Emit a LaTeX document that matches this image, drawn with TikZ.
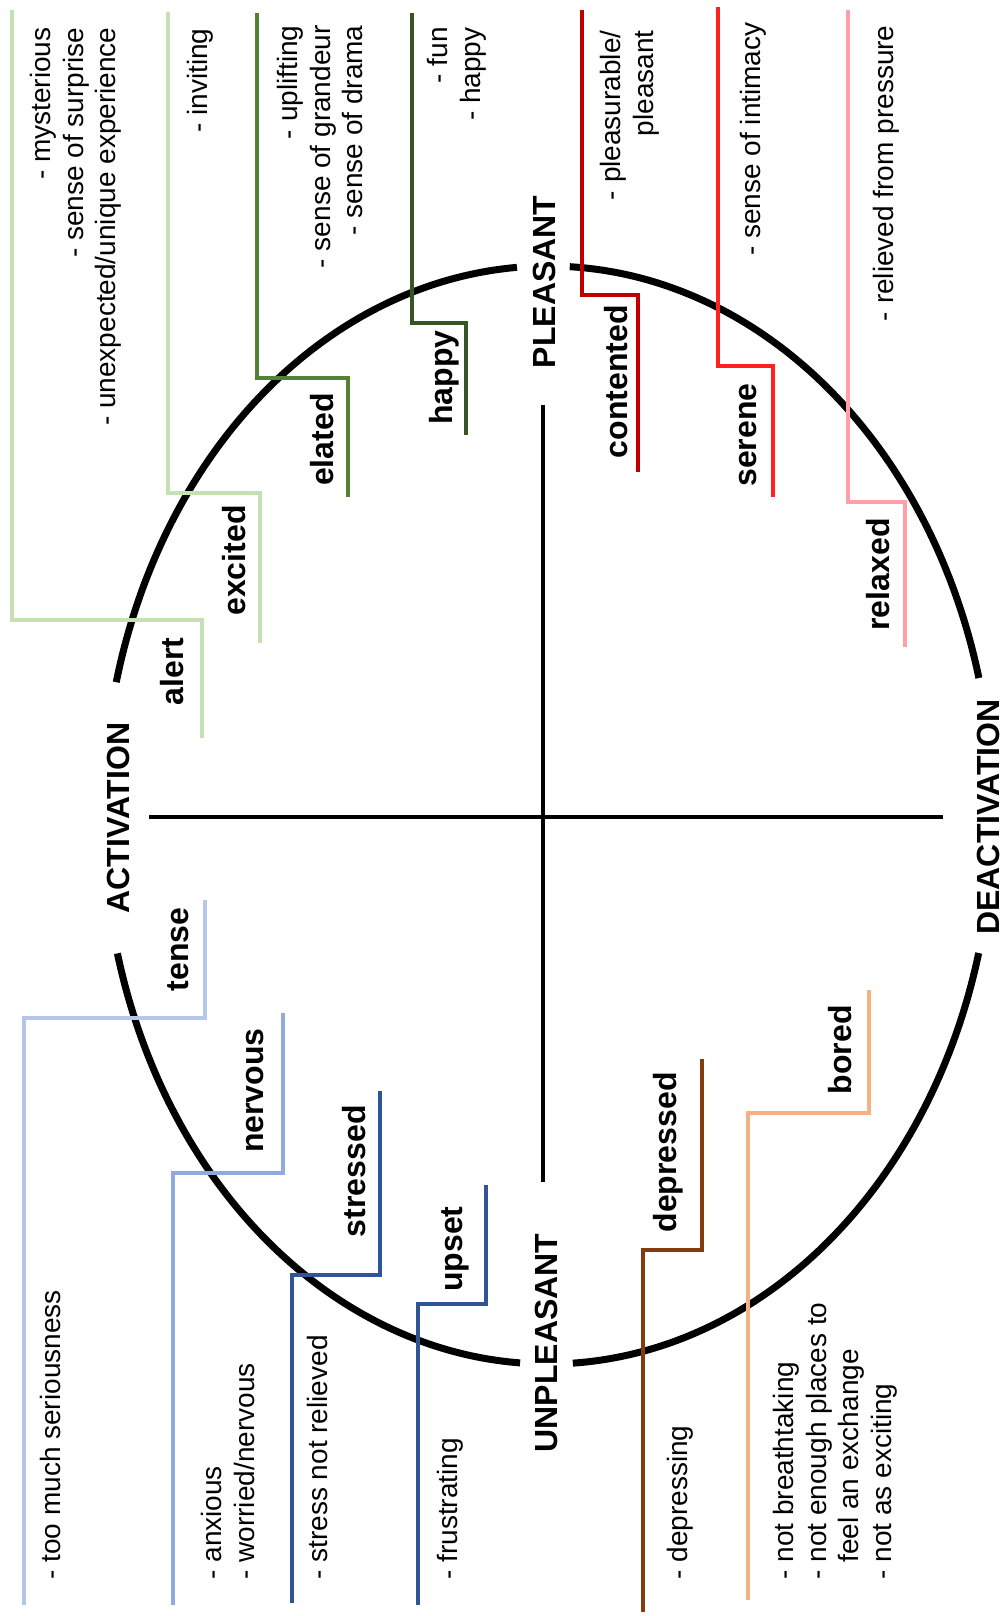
\documentclass[tikz,border=0pt]{standalone}
\usepackage{fontspec}
\setmainfont{Liberation Sans}
\definecolor{lgreen}{HTML}{C5E0B4}
\definecolor{mgreen}{HTML}{548235}
\definecolor{dgreen}{HTML}{375623}
\definecolor{dred}{HTML}{C00000}
\definecolor{bred}{HTML}{FF2020}
\definecolor{pink}{HTML}{FF9FA6}
\definecolor{lblue}{HTML}{B4C7E7}
\definecolor{mblue}{HTML}{8FAADC}
\definecolor{dblue}{HTML}{2F5597}
\definecolor{brown}{HTML}{843C0C}
\definecolor{peach}{HTML}{F4B183}
\begin{document}
\begin{tikzpicture}[x=0.5pt,y=-0.5pt]

  \tikzset{lab/.style={rotate=90,inner sep=0pt,font=\fontsize{16}{19}\selectfont\bfseries},
           desc/.style={rotate=90,inner sep=0pt,font=\fontsize{14}{16.25}\selectfont},
           stepline/.style={line width=2pt},
           axis/.style={line width=2pt}}
  \useasboundingbox (0,0) rectangle (1005,1616);

  % circumplex
  \foreach \s/\e in {-87.2/-14.45,14.56/86.8,93.6/165.4,194.0/266.0}
    \draw[line width=3.5pt,domain=\s:\e,samples=80,smooth] plot ({548+445*cos(\x)},{815+549*sin(\x)});
  \draw[axis] (149,817) -- (943,817);
  \draw[axis] (543,405) -- (543,1182);
  \node[lab] (act) at (118,818) {ACTIVATION};
  \node[lab] (deact) at (988,817) {DEACTIVATION};
  \node[lab] (pleas) at (544,282) {PLEASANT};
  \node[lab] (unpleas) at (546,1343) {UNPLEASANT};

  % brackets
  \foreach \c/\xa/\ya/\yh/\xb/\yb in {lgreen/12/10/620/202/738,lgreen/168/12/493/260/643,
      mgreen/257/13/378/348/497,dgreen/412/13/323/466/435,dred/582/10/295/638/472,
      bred/718/7/366/773/497,pink/848/10/502/905/647,
      lblue/205/900/1018/24/1605,mblue/283/1013/1173/173/1605,dblue/380/1091/1275/292/1603,
      dblue/486/1185/1304/418/1605,brown/702/1059/1250/643/1612,peach/869/990/1113/748/1600}
    \draw[stepline,\c] (\xa,\ya) |- (\xb,\yh) -- (\xb,\yb);

  % emotions
  \foreach \n/\x/\y in {alert/183/637,excited/245/505,elated/333/393,happy/452/330,
      contented/627/305,serene/756/383,relaxed/889/518,tense/188/907,nervous/263/1028,
      stressed/365/1105,upset/462/1206,depressed/676/1072,bored/851/1005}
    \node[lab,anchor=base east] (\n) at (\x,\y) {\n};

  % comments
  \node[desc,anchor=north east,align=right] (dalert) at (30,27) {- mysterious\\- sense of surprise\\- unexpected/unique experience};
  \node[desc,anchor=north east,align=right] (dexcited) at (187,28) {- inviting};
  \node[desc,anchor=north east,align=right] (delated) at (277,25) {- uplifting\\- sense of grandeur\\- sense of drama};
  \node[desc,anchor=north east,align=right] (dhappy) at (427,27) {- fun\\- happy};
  \node[desc,anchor=north east,align=right] (dcontented) at (600,30) {- pleasurable/\\pleasant};
  \node[desc,anchor=north east,align=right] (dserene) at (740,22) {- sense of intimacy};
  \node[desc,anchor=north east,align=right] (drelaxed) at (873,25) {- relieved from pressure};
  \node[desc,anchor=north west,align=left] (dtense) at (40,1580) {- too much seriousness};
  \node[desc,anchor=north west,align=left] (dnervous) at (201,1580) {- anxious\\- worried/nervous};
  \node[desc,anchor=north west,align=left] (dstressed) at (307,1580) {- stress not relieved};
  \node[desc,anchor=north west,align=left] (dupset) at (437,1580) {- frustrating};
  \node[desc,anchor=north west,align=left] (ddepressed) at (667,1580) {- depressing};
  \node[desc,anchor=north west,align=left] (dbored) at (773,1580) {- not breathtaking\\- not enough places to\\\hphantom{- }feel an exchange\\- not as exciting};
\end{tikzpicture}
\end{document}
